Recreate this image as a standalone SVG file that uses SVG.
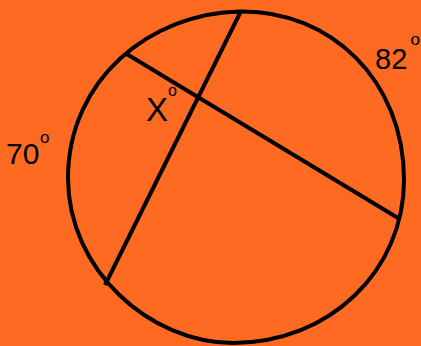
<svg xmlns="http://www.w3.org/2000/svg" width="421" height="346" viewBox="0 0 421 346">
<style>
.ln{fill:none;stroke:#000;stroke-width:4;stroke-linecap:butt}
.t{font-family:"Liberation Sans",Arial,sans-serif;fill:#000}
</style>
<rect width="421" height="346" fill="#FF6A22"/>
<g id="circle"><path class="ln" d="M240,11.5 C330,10 404,80 404,180 C404,270 330,343 233,343 C150,343 68,270 68,178 C68,80 150,13 240,11.5 Z"/></g>
<g id="connectors">
<line class="ln" x1="241" y1="11" x2="105" y2="285"/>
<line class="ln" x1="125" y1="53" x2="398" y2="218"/>
</g>
<g id="label-82"><text class="t" x="375" y="69" font-size="29">82</text><text class="t" x="410.5" y="45" font-size="17">o</text></g>
<g id="label-70"><text class="t" x="6" y="164" font-size="30">70</text><text class="t" x="40" y="143" font-size="17">o</text></g>
<g id="label-x"><text class="t" x="146" y="121" font-size="33">X</text><text class="t" x="168" y="95.5" font-size="16">o</text></g>
</svg>
